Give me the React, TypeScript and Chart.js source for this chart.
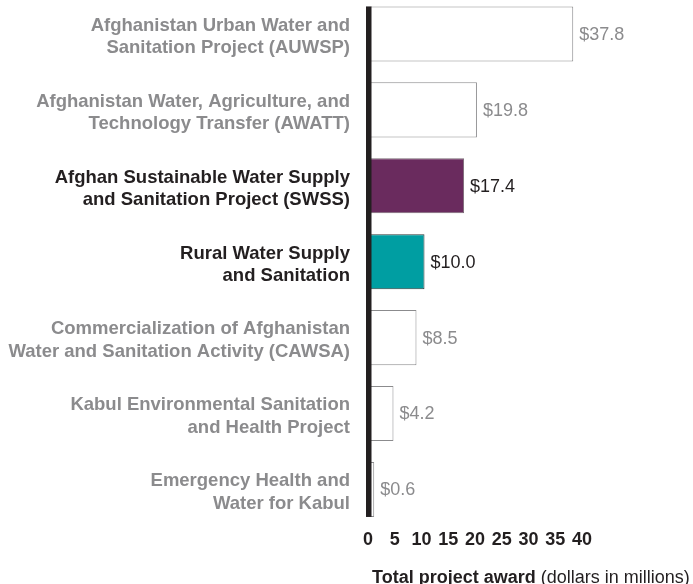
import React, { useEffect, useRef } from "react";
import { Chart, registerables } from "chart.js";

Chart.register(...registerables);

const categories: string[][] = [
  ["Afghanistan Urban Water and", "Sanitation Project (AUWSP)"],
  ["Afghanistan Water, Agriculture, and", "Technology Transfer (AWATT)"],
  ["Afghan Sustainable Water Supply", "and Sanitation Project (SWSS)"],
  ["Rural Water Supply", "and Sanitation"],
  ["Commercialization of Afghanistan", "Water and Sanitation Activity (CAWSA)"],
  ["Kabul Environmental Sanitation", "and Health Project"],
  ["Emergency Health and", "Water for Kabul"],
];
const awards: number[] = [37.8, 19.8, 17.4, 10.0, 8.5, 4.2, 0.6];
const xTicks: number[] = [0, 5, 10, 15, 20, 25, 30, 35, 40];
const axisTitleBold = "Total project award";
const axisTitleNormal = " (dollars in millions)";

const FONT = "'Liberation Sans', Arial, Helvetica, sans-serif";
const GRAY = "#8b8b8d";
const DARK = "#231f20";
const fills = ["#ffffff", "#ffffff", "#6a2b5e", "#009ea2", "#ffffff", "#ffffff", "#ffffff"];
const borders = ["#8b8b8d", "#8b8b8d", "#7a6a76", "#2f3a3a", "#8b8b8d", "#8b8b8d", "#8b8b8d"];
const labelColors = [GRAY, GRAY, DARK, DARK, GRAY, GRAY, GRAY];

export default function App() {
  const ref = useRef<HTMLCanvasElement | null>(null);
  useEffect(() => {
    document.body.style.overflow = "hidden";
    const canvas = ref.current!;
    const valuePlugin = {
      id: "valueLabels",
      afterDatasetsDraw(chart: any) {
        const ctx = chart.ctx;
        const meta = chart.getDatasetMeta(0);
        const bars = meta.data;
        ctx.save();
        // thick vertical axis line
        const first = bars[0];
        const last = bars[bars.length - 1];
        const top = first.y - first.height / 2;
        const bottom = last.y + last.height / 2;
        ctx.fillStyle = DARK;
        ctx.fillRect(chart.chartArea.left - 5, top, 5.5, bottom - top);
        // value labels
        ctx.font = `18px ${FONT}`;
        ctx.textAlign = "left";
        ctx.textBaseline = "middle";
        bars.forEach((bar: any, i: number) => {
          ctx.fillStyle = labelColors[i];
          ctx.fillText("$" + awards[i].toFixed(1), bar.x + 6, bar.y + 1);
        });
        ctx.restore();
      },
      afterDraw(chart: any) {
        const ctx = chart.ctx;
        const x0 = chart.chartArea.left + 1;
        const y = 587;
        ctx.save();
        ctx.textBaseline = "alphabetic";
        ctx.textAlign = "left";
        ctx.fillStyle = DARK;
        ctx.font = `bold 18px ${FONT}`;
        ctx.fillText(axisTitleBold, x0, y);
        const w = ctx.measureText(axisTitleBold).width;
        ctx.font = `18px ${FONT}`;
        ctx.fillText(axisTitleNormal, x0 + w, y);
        ctx.restore();
      },
    };
    const chart = new Chart(canvas, {
      type: "bar",
      data: {
        labels: categories as any,
        datasets: [
          {
            data: awards,
            backgroundColor: fills,
            borderColor: borders,
            borderWidth: 1,
            barPercentage: 0.725,
            categoryPercentage: 1,
          },
        ],
      },
      options: {
        indexAxis: "y",
        responsive: false,
        animation: false,
        layout: { padding: { top: 0, right: 108, bottom: 0, left: 0 } },
        plugins: { legend: { display: false }, tooltip: { enabled: false } },
        scales: {
          x: {
            min: 0,
            max: 40,
            afterBuildTicks: (scale: any) => {
              scale.ticks = xTicks.map((v) => ({ value: v }));
            },
            afterFit: (scale: any) => {
              scale.height = 56.6;
              scale.paddingLeft = 0;
              scale.paddingRight = 0;
            },
            grid: { display: false, drawTicks: false },
            border: { display: false },
            ticks: {
              padding: 2,
              labelOffset: -3,
              color: DARK,
              font: { family: FONT, size: 18, weight: "bold" },
              maxRotation: 0,
              autoSkip: false,
            },
          },
          y: {
            afterFit: (scale: any) => {
              scale.width = 371;
              scale.paddingTop = 0;
              scale.paddingBottom = 0;
            },
            grid: { display: false, drawTicks: false },
            border: { display: false },
            ticks: {
              padding: 21,
              labelOffset: 3,
              color: (c: any) => labelColors[c.index],
              font: { family: FONT, size: 18.5, weight: "bold", lineHeight: 1.22 },
              autoSkip: false,
            },
          },
        },
      },
      plugins: [valuePlugin],
    });
    return () => chart.destroy();
  }, []);
  return (
    <div style={{ position: "absolute", left: 0, top: -4, width: 693, height: 588 }}>
      <canvas ref={ref} width={693} height={588} style={{ width: 693, height: 588 }} />
    </div>
  );
}
